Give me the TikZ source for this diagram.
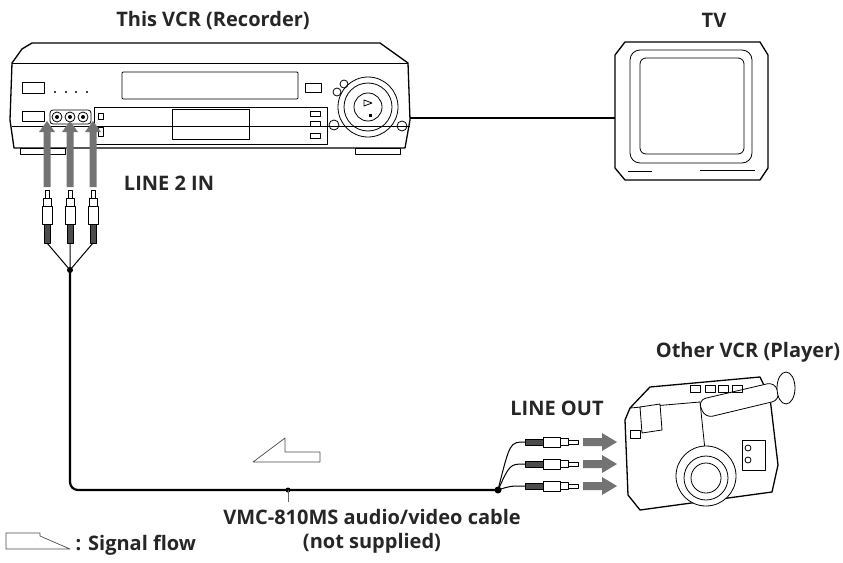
\documentclass[tikz,border=0pt]{standalone}
\usepackage{fontspec}
\setmainfont{Open Sans}
\usetikzlibrary{arrows.meta}
\begin{document}
\begin{tikzpicture}[x=1pt,y=-1pt,line join=round,
  lbl/.style={font=\bfseries\fontsize{20}{22}\selectfont,text=black!85},
  dev/.style={draw=black,line width=1.3pt,fill=white},
  thin/.style={draw=black,line width=0.8pt},
  flow/.style={draw=none,fill=black!55},
  cable/.style={line width=2.2pt,black},
  hollow/.style={draw=black!70,line width=0.7pt,fill=white}]
\useasboundingbox (0,0) rectangle (843,562);
% labels
\node[lbl] (t1) at (213,20) {This VCR (Recorder)};
\node[lbl] (t2) at (714,20) {TV};
\node[lbl] (t3) at (169,183) {LINE 2 IN};
\node[lbl] (t4) at (748,352) {Other VCR (Player)};
\node[lbl] (t5) at (557,408) {LINE OUT};
\node[lbl] (t6) at (372,517) {VMC-810MS audio/video cable};
\node[lbl] (t7) at (372,543) {(not supplied)};
\node[lbl,anchor=west] (t8) at (72,545) {: Signal flow};
% VCR
\draw[dev] (22,49) -- (32,43) -- (380,43) -- (408,63) -- (410,120) -- (405,148) -- (14,148) -- (10,120) -- (12,63) -- cycle;
\draw[thin] (12,63) -- (408,63);
\draw[thin] (12,126) -- (410,126);
\draw[thin,fill=white] (20,148) rectangle (65,154);
\draw[thin,fill=white] (355,148) rectangle (400,154);
\draw[thin] (22,82) rectangle (44,93);
\foreach \x in {55,66,76,87} \fill (\x,92) circle (1.1);
\draw[thin,rounded corners=1] (122,72) rectangle (298,99);
\draw[thin] (305,83) rectangle (321,92);
\draw[thin] (22,111) rectangle (44,121);
\draw[thin,rounded corners=3] (50,110) rectangle (91,124);
\foreach \x in {57,70,83} {\draw[thin] (\x,117) circle (5); \fill (\x,117) circle (2);}
\draw[thin] (94,107) rectangle (327,144);
\draw[thin] (172,109) rectangle (249,139);
\draw[thin] (98,113) rectangle (103,119);
\draw[thin] (98,127) rectangle (103,136);
\foreach \y in {111,121,133} \draw[thin] (310,\y) rectangle (320,\y+5);
\draw[thin] (368,107) circle (30);
\draw[thin] (368,107) circle (24);
\draw[thin] (368,107) circle (14);
\fill (369,114) rectangle (372,117);
\draw[thin] (364,100) -- (372,103) -- (364,106) -- cycle;
\draw[thin] (344,84) circle (4);
\draw[thin] (337,92) circle (4);
\draw[thin] (334,125) circle (5);
\draw[thin] (402,126) circle (5);
% TV
\draw[dev] (615,55) -- (625,42) -- (760,42) -- (768,55) -- (768,168) -- (760,180) -- (625,180) -- (615,168) -- cycle;
\draw[thin,rounded corners=10] (630,50) rectangle (752,163);
\draw[thin,rounded corners=6] (640,58) rectangle (744,154);
\draw[thin] (700,170) -- (755,170);
\draw[thin] (628,171) -- (652,171);
% VCR to TV
\coordinate (vo) at (410,118);
\coordinate (ti) at (615,118);
\draw[line width=1.6pt] (vo) -- (ti);
% flow arrows up
\foreach \x in {47,70,93}
  \fill[black!55] (\x-3.5,187) -- (\x-3.5,132) -- (\x-8,132) -- (\x,121) -- (\x+8,132) -- (\x+3.5,132) -- (\x+3.5,187) -- cycle;
% plugs vertical
\foreach \x in {47,70,93} {
  \draw[thin,fill=white] (\x-2,190) rectangle (\x+2,198);
  \draw[thin,fill=white] (\x-4,198) rectangle (\x+4,206);
  \draw[thin,fill=white] (\x-5,206) rectangle (\x+5,224);
  \draw[thin,fill=black!70] (\x-3,224) rectangle (\x+3,243);
}
\coordinate (j1) at (70,270);
\draw[line width=1pt] (47,243) -- (j1) (70,243) -- (j1) (93,243) -- (j1);
\fill (j1) circle (3);
\coordinate (j2) at (498,490);
\coordinate (ld) at (288,490);
\draw[cable,rounded corners=8] (j1) -- (70,490) -- (j2);
\fill (j2) circle (3.5);
\fill (ld) circle (2.5);
\draw[line width=0.8pt,black!60] (ld) -- (288,502);
% hollow arrow on cable
\draw[hollow] (320,452) -- (320,462) -- (253,462) -- (285,438) -- (285,452) -- cycle;
% legend
\draw[hollow] (6,533) -- (40,533) -- (40,536) -- (70,549) -- (6,549) -- cycle;
% plugs horizontal
\foreach \y in {442,464,486} {
  \draw[line width=1pt] (j2) .. controls (510,\y) .. (525,\y);
  \draw[thin,fill=black!70] (525,\y-3) rectangle (543,\y+3);
  \draw[thin,fill=white] (543,\y-5) rectangle (560,\y+5);
  \draw[thin,fill=white] (560,\y-3.5) rectangle (568,\y+3.5);
  \draw[thin,fill=white] (568,\y-2) rectangle (578,\y+2);
  \fill[black!55] (583,\y-4) -- (602,\y-4) -- (602,\y-9) -- (617,\y) -- (602,\y+9) -- (602,\y+4) -- (583,\y+4) -- cycle;
}
% camcorder
\draw[dev] (630,408) -- (650,387) -- (760,377) -- (770,398) -- (778,465) -- (772,492) -- (640,510) -- (628,495) -- (625,420) -- cycle;
\draw[thin] (630,408) -- (700,402) -- (705,450);
\draw[thin,fill=white] (640,407) -- (660,404) -- (662,430) -- (642,433) -- cycle;
\draw[thin] (630,430) rectangle (640,438);
\draw[thin,fill=white,rounded corners=8] (698,400) -- (775,382) -- (780,400) -- (705,418) -- cycle;
\draw[thin,fill=white] (786,388) ellipse (9 and 16);
\draw[thin,fill=white] (706,476) circle (30);
\draw[thin,fill=white] (706,478) circle (22);
\draw[thin] (706,478) circle (15);
\draw[thin] (742,440) rectangle (765,470);
\draw[thin] (748,448) circle (3);
\draw[thin] (748,460) circle (3);
\foreach \x in {690,705,718,732} \draw[thin] (\x,385) rectangle (\x+10,392);
\end{tikzpicture}
\end{document}
